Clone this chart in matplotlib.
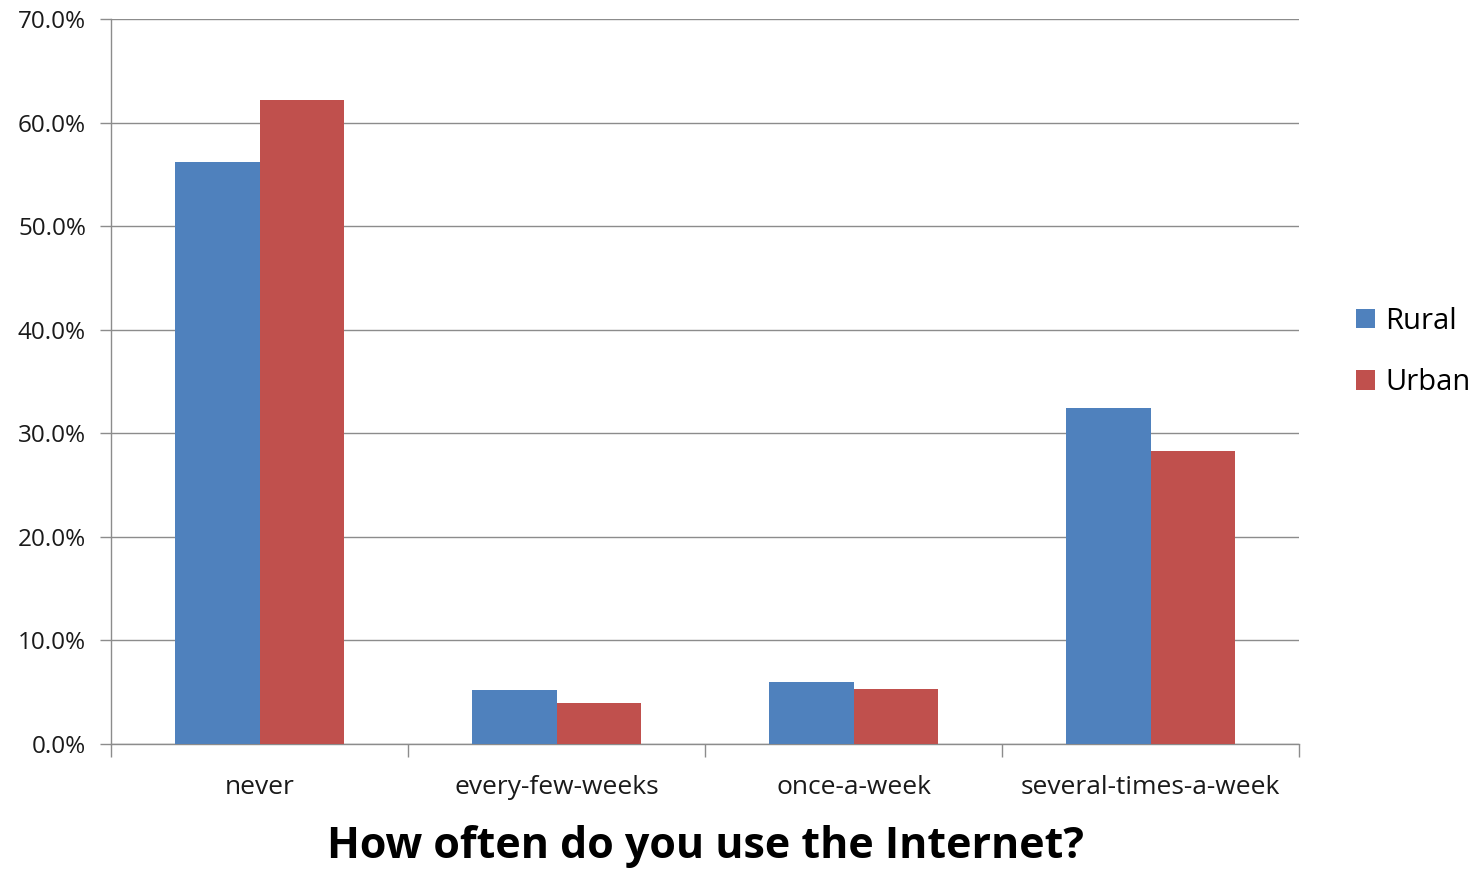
import matplotlib
matplotlib.use('Agg')
import matplotlib.pyplot as plt
import numpy as np
from matplotlib.ticker import FuncFormatter

plt.rcParams['font.family'] = ['Open Sans', 'DejaVu Sans']

# data
categories = ['never', 'every-few-weeks', 'once-a-week', 'several-times-a-week']
rural = [56.2, 5.2, 6.0, 32.4]
urban = [62.2, 4.0, 5.3, 28.3]
series_names = ['Rural', 'Urban']
yticks = [0, 10, 20, 30, 40, 50, 60, 70]

blue = '#4f81bd'
red = '#c0504d'

fig = plt.figure(figsize=(14.78, 8.72), dpi=100)
ax = fig.add_axes([111/1478, 1 - 744/872, (1299 - 111)/1478, (744 - 19)/872])

x = np.arange(len(categories))
w = 0.286
ax.bar(x - w/2, rural, width=w, color=blue, label=series_names[0], zorder=3)
ax.bar(x + w/2, urban, width=w, color=red, label=series_names[1], zorder=3)

ax.set_xlim(-0.5, len(categories) - 0.5)
ax.set_ylim(0, 70)
ax.set_yticks(yticks)
ax.yaxis.set_major_formatter(FuncFormatter(lambda v, p: '%.1f%%' % v))
ax.yaxis.grid(True, color='#8c8c8c', linewidth=1.0, zorder=0)

# category labels centred, ticks at the boundaries
ax.set_xticks(np.arange(-0.5, len(categories), 1.0))
ax.set_xticklabels([])
ax.set_xticks(x, minor=True)
ax.set_xticklabels(categories, minor=True, fontsize=19, color='#1a1a1a')
ax.tick_params(axis='x', which='minor', length=0, pad=22)
ax.tick_params(axis='x', which='major', length=9, width=1, color='#8c8c8c', direction='out')
ax.tick_params(axis='y', length=8, width=1, color='#8c8c8c', direction='out',
               labelsize=17.5, labelcolor='#1a1a1a', pad=10)

for s in ['top', 'right']:
    ax.spines[s].set_visible(False)
for s in ['left', 'bottom']:
    ax.spines[s].set_color('#8c8c8c')
    ax.spines[s].set_linewidth(1.0)

fig.text(705/1478, 1 - 846/872, 'How often do you use the Internet?', ha='center', va='center',
         fontsize=31, fontweight='bold', color='#000000')

h, l = ax.get_legend_handles_labels()
fig.legend(h, l, loc='center left', bbox_to_anchor=(1356/1478, 1 - 352/872), frameon=False,
           fontsize=21, handlelength=0.65, handleheight=0.65, handletextpad=0.35,
           labelspacing=1.1, borderpad=0, borderaxespad=0)

fig.savefig('out.png', dpi=100)
